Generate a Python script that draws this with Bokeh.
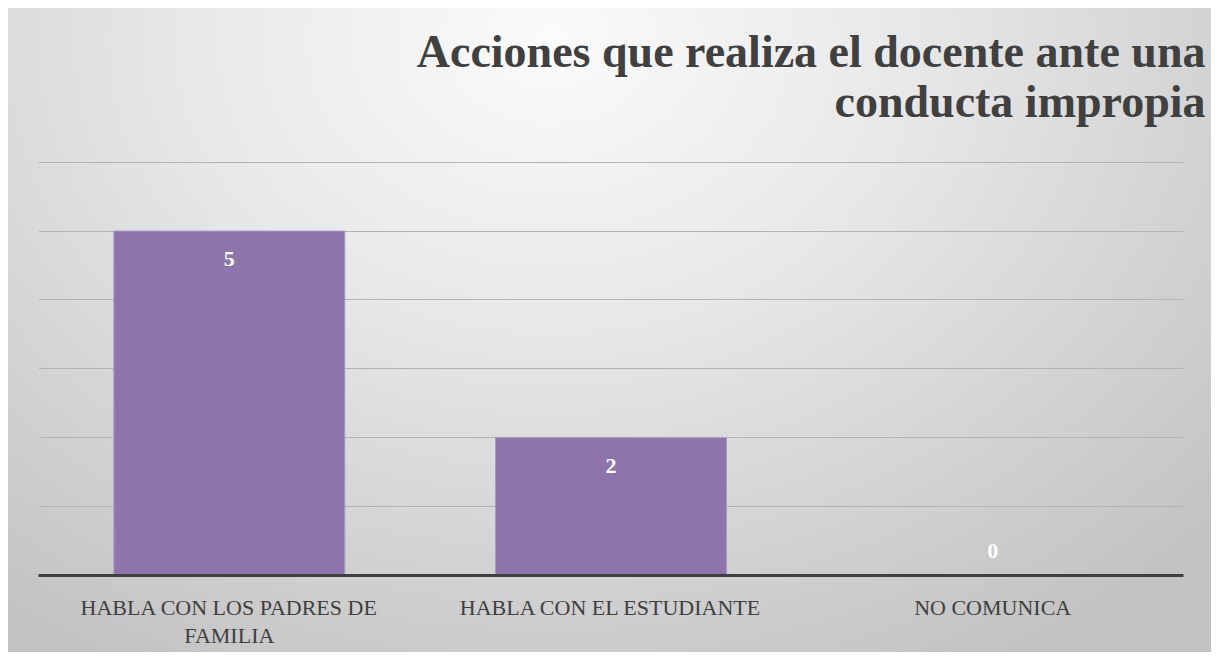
from bokeh.plotting import figure
from bokeh.models import (ColumnDataSource, Range1d, FactorRange, Title, FixedTicker,
                          CategoricalAxis, CustomJSTickFormatter)
from bokeh.core.properties import value
from bokeh.embed import file_html
from bokeh.resources import INLINE

categories = ["HABLA CON LOS PADRES DE FAMILIA", "HABLA CON EL ESTUDIANTE", "NO COMUNICA"]
values = [5, 2, 0]
label_line1 = ["HABLA CON LOS PADRES DE", "HABLA CON EL ESTUDIANTE", "NO COMUNICA"]
label_line2 = ["FAMILIA", "", ""]
grid_ticks = [0, 1, 2, 3, 4, 5, 6]
title_lines = ["Acciones que realiza el docente ante una", "conducta impropia"]

FONT = "Liberation Serif"

source = ColumnDataSource(dict(cat=categories, val=values, txt=[str(v) for v in values],
                               off=[21 if v > 0 else -32 for v in values]))

p = figure(width=1203, height=644, x_range=FactorRange(factors=categories),
           y_range=Range1d(0, grid_ticks[-1] + 0.01), output_backend="svg", toolbar_location=None,
           min_border_left=30, min_border_right=28, min_border_top=153, min_border_bottom=77)
p.title = None
p.styles = {"margin-left": "8px", "margin-top": "8px",
            "background-image": "radial-gradient(ellipse 75% 110% at 45% 5%, #fbfbfb 0%, #e8e8e8 40%, #d2d2d2 75%, #c3c3c3 100%)"}
p.background_fill_alpha = 0
p.border_fill_alpha = 0
p.outline_line_color = None

p.vbar(x="cat", top="val", width=0.605, source=source, fill_color="#8d75ac",
       line_color="#a997c6", line_width=1)
p.text(x="cat", y="val", text="txt", source=source, text_align="center", text_baseline="top",
       y_offset="off", text_color="white", text_font=value(FONT), text_font_style="bold",
       text_font_size="22px")

# titles stack outward from the frame: second line first
for line, stand in zip(reversed(title_lines), [70, -76]):
    p.add_layout(Title(text=line, align="right", text_font=FONT, text_font_size="46px",
                       text_font_style="bold", text_color="#404040",
                       standoff=stand, offset=-22), "above")

p.yaxis.visible = False
p.ygrid.ticker = FixedTicker(ticks=grid_ticks)
p.ygrid.grid_line_color = "#b3b3b3"
p.ygrid.grid_line_width = 1
p.xgrid.grid_line_color = None

fmt_code = "const i = keys.indexOf(tick); return i >= 0 ? vals[i] : tick;"

ax = p.xaxis[0]
ax.axis_line_width = 3
ax.axis_line_color = "#404040"
ax.major_tick_line_color = None
ax.minor_tick_line_color = None
ax.major_tick_out = 0
ax.major_tick_in = 0
ax.formatter = CustomJSTickFormatter(args=dict(keys=categories, vals=label_line1), code=fmt_code)
ax.major_label_standoff = 19
ax.major_label_text_font = FONT
ax.major_label_text_font_size = "22px"
ax.major_label_text_color = "#404040"

ax2 = CategoricalAxis(axis_line_color=None, major_tick_line_color=None, minor_tick_line_color=None,
                      major_tick_out=0, major_tick_in=0,
                      formatter=CustomJSTickFormatter(args=dict(keys=categories, vals=label_line2), code=fmt_code),
                      major_label_standoff=0,
                      major_label_text_font=FONT, major_label_text_font_size="22px",
                      major_label_text_color="#404040")
p.add_layout(ax2, "below")

open("out.html", "w").write(file_html(p, INLINE))
